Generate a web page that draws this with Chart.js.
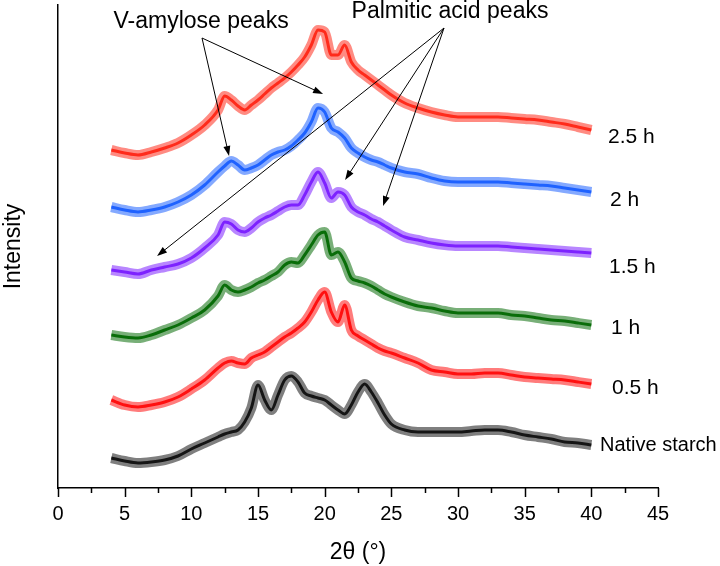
<!DOCTYPE html>
<html lang="en">
<head>
    <meta charset="UTF-8">
    <title>XRD patterns</title>
    <script src="https://cdn.jsdelivr.net/npm/chart.js"></script>
    <style>
        body { margin: 0; background: #fff; }
        #wrap { width: 720px; height: 566px; }
    </style>
</head>
<body>
    <div id="wrap"><canvas id="xrd"></canvas></div>

    <script>
        // 2theta positions (deg) where values were read
        var twoTheta = [4, 5, 6, 7, 8, 9, 10, 11,
            12, 12.5, 13, 13.5, 14, 14.5, 15, 15.5, 16, 16.5, 17, 17.5, 18, 18.5,
            19, 19.5, 20, 20.5, 21, 21.5, 22, 22.5, 23, 23.5, 24, 24.5, 25,
            26, 27, 28, 29, 30, 31, 32, 33, 34, 35, 36, 37, 38, 39, 40];

        // stacked intensities (a.u., already offset)
        var nativeStarch = [30, 27, 25, 26, 28, 32, 39, 45,
            51, 54, 56, 58, 66, 80, 103, 88, 78, 93, 108, 112, 106, 95,
            92, 90, 88, 83, 78, 74, 83, 96, 104, 96, 85, 73, 64,
            58, 56, 56, 56, 56, 57, 58, 58, 56, 53, 51, 49, 46, 45, 43];
        var h05 = [88, 83, 81, 83, 86, 91, 99, 108,
            120, 125, 127, 125, 124, 130, 133, 136, 141, 146, 151, 155, 160, 166,
            176, 188, 196, 176, 166, 183, 158, 152, 148, 144, 140, 137, 135,
            130, 125, 118, 116, 114, 114, 115, 115, 113, 111, 110, 109, 108, 106, 104];
        var h1 = [153, 151, 150, 153, 158, 163, 170, 178,
            192, 203, 198, 196, 198, 201, 205, 208, 212, 216, 223, 226, 225, 233,
            243, 253, 256, 233, 236, 226, 210, 207, 205, 202, 198, 194, 191,
            186, 182, 180, 177, 175, 175, 175, 175, 173, 172, 170, 168, 167, 165, 163];
        var h15 = [218, 216, 214, 218, 221, 224, 230, 240,
            253, 266, 264, 258, 256, 260, 266, 270, 273, 277, 281, 283, 283, 293,
            306, 316, 305, 290, 296, 293, 281, 276, 273, 269, 266, 262, 258,
            251, 248, 245, 243, 242, 242, 242, 242, 241, 240, 239, 238, 237, 236, 235];
        var h2 = [281, 278, 276, 278, 281, 286, 293, 303,
            316, 322, 327, 323, 318, 320, 323, 328, 333, 336, 338, 342, 348, 355,
            366, 380, 376, 360, 356, 350, 340, 335, 331, 328, 326, 323, 320,
            316, 314, 310, 307, 306, 306, 306, 306, 305, 304, 303, 302, 300, 298, 296];
        var h25 = [338, 335, 333, 336, 340, 345, 353, 363,
            378, 392, 388, 382, 378, 383, 388, 394, 400, 405, 410, 416, 423, 431,
            443, 458, 456, 433, 433, 443, 426, 418, 413, 408, 403, 398, 393,
            385, 380, 376, 373, 371, 371, 371, 371, 370, 369, 368, 366, 364, 361, 358];

        var seriesNames = ['2.5 h', '2 h', '1.5 h', '1 h', '0.5 h', 'Native starch'];
        var seriesData = [h25, h2, h15, h1, h05, nativeStarch];
        var seriesColors = ['#ff2b1c', '#1f62ff', '#7d22ff', '#0a6e0a', '#ff1010', '#151515'];

        var FONT = '"Liberation Sans", Arial, sans-serif';

        function pts(values) {
            return values.map(function(v, i) { return { x: twoTheta[i], y: v }; });
        }

        var datasets = [];
        seriesData.forEach(function(values, i) {
            // wide band standing in for the noise, then the trace itself
            datasets.push({
                label: seriesNames[i] + ' band',
                data: pts(values),
                borderColor: seriesColors[i] + '8c',
                borderWidth: 10,
                pointRadius: 0,
                cubicInterpolationMode: 'monotone'
            });
            datasets.push({
                label: seriesNames[i],
                data: pts(values),
                borderColor: seriesColors[i],
                borderWidth: 3,
                pointRadius: 0,
                cubicInterpolationMode: 'monotone'
            });
        });

        // curve labels on the right, in data coordinates
        var curveLabels = [
            { text: '2.5 h', x: 41.25, y: 351, size: 21 },
            { text: '2 h', x: 41.4, y: 288, size: 21 },
            { text: '1.5 h', x: 41.33, y: 221, size: 21 },
            { text: '1 h', x: 41.48, y: 160, size: 21 },
            { text: '0.5 h', x: 41.55, y: 100, size: 21 },
            { text: 'Native starch', x: 40.65, y: 43, size: 20 }
        ];

        // annotation texts and arrows (data coordinates)
        var notes = [
            { text: 'V-amylose peaks', x: 10.73, y: 466, from: [10.8, 450], to: [[12.83, 332], [19.88, 394]] },
            { text: 'Palmitic acid peaks', x: 29.4, y: 476, from: [28.95, 460], to: [[7.43, 232], [21.53, 308], [24.38, 282]] }
        ];

        function arrow(ctx, x1, y1, x2, y2) {
            var a = Math.atan2(y2 - y1, x2 - x1);
            var len = 10, w = 3.5;
            ctx.beginPath();
            ctx.moveTo(x1, y1);
            ctx.lineTo(x2 - Math.cos(a) * len * 0.8, y2 - Math.sin(a) * len * 0.8);
            ctx.stroke();
            ctx.beginPath();
            ctx.moveTo(x2, y2);
            ctx.lineTo(x2 - Math.cos(a) * len - Math.sin(a) * w, y2 - Math.sin(a) * len + Math.cos(a) * w);
            ctx.lineTo(x2 - Math.cos(a) * len + Math.sin(a) * w, y2 - Math.sin(a) * len - Math.cos(a) * w);
            ctx.closePath();
            ctx.fill();
        }

        var extras = {
            id: 'extras',
            afterDraw: function(chart) {
                var ctx = chart.ctx;
                var xs = chart.scales.x, ys = chart.scales.y;
                var bottom = chart.chartArea.bottom;
                ctx.save();
                // x ticks, major every 5, minor every 2.5
                ctx.strokeStyle = '#000';
                ctx.lineWidth = 1.5;
                for (var v = 0; v <= 45; v += 2.5) {
                    var px = Math.round(xs.getPixelForValue(v)) + 0.5;
                    ctx.beginPath();
                    ctx.moveTo(px, bottom);
                    ctx.lineTo(px, bottom + (v % 5 === 0 ? 9 : 5));
                    ctx.stroke();
                }
                // curve labels
                ctx.fillStyle = '#000';
                ctx.textBaseline = 'middle';
                ctx.textAlign = 'left';
                curveLabels.forEach(function(l) {
                    ctx.font = l.size + 'px ' + FONT;
                    ctx.fillText(l.text, xs.getPixelForValue(l.x), ys.getPixelForValue(l.y));
                });
                // annotations
                ctx.font = '23px ' + FONT;
                ctx.textAlign = 'center';
                ctx.lineWidth = 1;
                ctx.strokeStyle = '#000';
                notes.forEach(function(n) {
                    ctx.fillText(n.text, xs.getPixelForValue(n.x), ys.getPixelForValue(n.y));
                    var fx = xs.getPixelForValue(n.from[0]), fy = ys.getPixelForValue(n.from[1]);
                    n.to.forEach(function(t) {
                        arrow(ctx, fx, fy, xs.getPixelForValue(t[0]), ys.getPixelForValue(t[1]));
                    });
                });
                ctx.restore();
            }
        };

        new Chart(document.getElementById('xrd'), {
            type: 'line',
            data: { datasets: datasets },
            plugins: [extras],
            options: {
                responsive: true,
                maintainAspectRatio: false,
                animation: false,
                layout: { padding: { top: 5, right: 62, left: 0, bottom: 0 } },
                plugins: {
                    legend: { display: false },
                    tooltip: { enabled: false }
                },
                scales: {
                    x: {
                        type: 'linear',
                        min: 0,
                        max: 45,
                        grid: { display: false, drawTicks: false },
                        border: { display: true, color: '#000', width: 1.5 },
                        ticks: {
                            stepSize: 5,
                            autoSkip: false,
                            maxRotation: 0,
                            padding: 14,
                            color: '#000',
                            font: { size: 20, family: FONT }
                        },
                        title: {
                            display: true,
                            text: '2θ (°)',
                            color: '#000',
                            font: { size: 23, family: FONT },
                            padding: { top: 4, bottom: 0 }
                        },
                        afterFit: function(scale) { scale.height = 78; }
                    },
                    y: {
                        min: 0,
                        max: 483,
                        grid: { display: false, drawTicks: false },
                        border: { display: true, color: '#000', width: 1.5 },
                        ticks: { display: false },
                        title: {
                            display: true,
                            text: 'Intensity',
                            color: '#000',
                            font: { size: 23, family: FONT },
                            padding: 0
                        },
                        afterFit: function(scale) { scale.width = 58; }
                    }
                }
            }
        });
    </script>
</body>
</html>
